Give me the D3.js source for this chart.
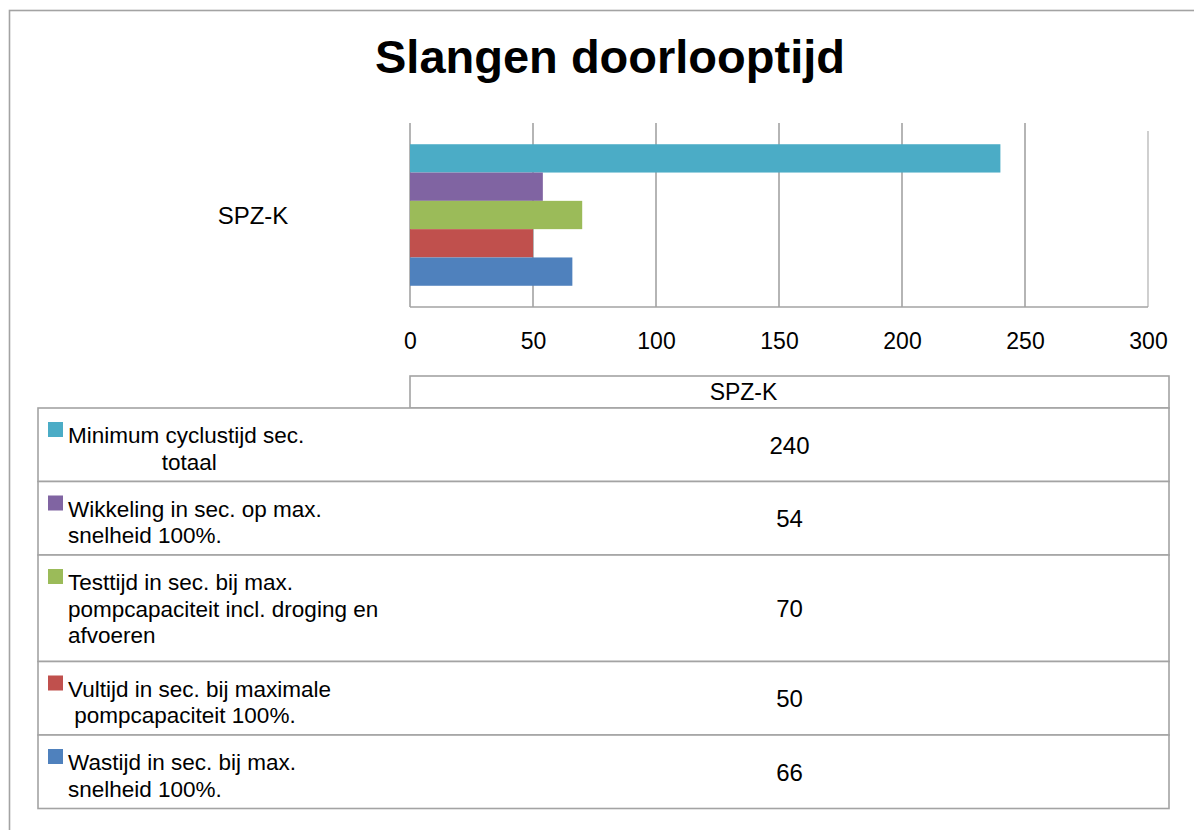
<!DOCTYPE html>
<html>
<head>
<meta charset="utf-8">
<script src="https://cdn.jsdelivr.net/npm/d3@7"></script>
<style>
	body { margin: 0; background: #fff; }
	text { font-family: "Liberation Sans", Arial, sans-serif; fill: #000; }
	.grid line, .frame { stroke: #a3a3a3; stroke-width: 1.6; fill: none; }
	.table-row { fill: #fff; stroke: #a3a3a3; stroke-width: 1.6; }
</style>
</head>
<body>
<div id="chart"></div>
<script>
// chart values
const categories = ['SPZ-K'];
const seriesLabels = [
	['Minimum cyclustijd sec.', '               totaal'],
	['Wikkeling in sec. op max.', 'snelheid 100%.'],
	['Testtijd in sec. bij max.', 'pompcapaciteit incl. droging en', 'afvoeren'],
	['Vultijd in sec. bij maximale', ' pompcapaciteit 100%.'],
	['Wastijd in sec. bij max.', 'snelheid 100%.'],
];
const seriesValues = [240, 54, 70, 50, 66];
const xTicks = [0, 50, 100, 150, 200, 250, 300];

const palette = ['#4bacc6', '#8064a2', '#9bbb59', '#c0504d', '#4f81bd'];

/**
 * Horizontal clustered bar chart with an Excel-like data table underneath.
 */
class DoorlooptijdChart {
	constructor(parentContainer) {
		this.parentContainer = parentContainer;

		this.dimensions = {
			width: 1194,
			height: 830,
			plot: { left: 410, right: 1148, top: 123, bottom: 307 },
			table: { left: 38, right: 1169, headerTop: 376, top: 408 },
		};

		this.series = seriesValues.map((v, i) => ({
			key: `s${i}`,
			value: v,
			label: seriesLabels[i],
			color: palette[i],
		}));

		this._createVis();
		this._drawBars();
		this._drawTable();
	}

	/** Helper method. Frame, title, scales and grid. */
	_createVis() {
		const dim = this.dimensions;

		this.svg = this.parentContainer.append('svg')
			.attr('width', dim.width)
			.attr('height', dim.height);

		// outer chart frame, runs off the right and bottom of the picture
		this.svg.append('rect')
			.classed('frame', true)
			.attr('x', 9.5)
			.attr('y', 10.5)
			.attr('width', dim.width + 20)
			.attr('height', dim.height + 20);

		this.svg.append('text')
			.attr('x', 610)
			.attr('y', 73)
			.attr('text-anchor', 'middle')
			.style('font-size', '47px')
			.style('font-weight', 'bold')
			.text('Slangen doorlooptijd');

		this.x = d3.scaleLinear()
			.domain([xTicks[0], xTicks[xTicks.length - 1]])
			.range([dim.plot.left, dim.plot.right]);

		this.y = d3.scaleBand()
			.domain(categories)
			.range([dim.plot.top, dim.plot.bottom])
			.paddingInner(0)
			.paddingOuter(0.15);

		this.ySeries = d3.scaleBand()
			.domain(this.series.map(d => d.key))
			.range([0, this.y.bandwidth()]);

		const grid = this.svg.append('g').classed('grid', true);
		grid.selectAll('line')
			.data(xTicks)
			.enter()
			.append('line')
			.attr('x1', d => this.x(d))
			.attr('x2', d => this.x(d))
			.attr('y1', d => d === xTicks[xTicks.length - 1] ? dim.plot.top + 8 : dim.plot.top)
			.attr('y2', dim.plot.bottom)
			.style('stroke', d => d === xTicks[xTicks.length - 1] ? '#c4c4c4' : null);

		grid.append('line')
			.attr('x1', dim.plot.left)
			.attr('x2', dim.plot.right)
			.attr('y1', dim.plot.bottom)
			.attr('y2', dim.plot.bottom);

		// tick labels
		const axis = d3.axisBottom(this.x)
			.tickValues(xTicks)
			.tickSize(0)
			.tickPadding(0);

		const axisGroup = this.svg.append('g')
			.attr('transform', `translate(0, ${dim.plot.bottom + 42})`)
			.call(axis);
		axisGroup.select('.domain').remove();
		axisGroup.selectAll('text')
			.attr('dy', null)
			.attr('y', 0)
			.style('font-size', '23px')
			.style('font-family', '"Liberation Sans", Arial, sans-serif')
			.attr('fill', '#000');

		// category label
		this.svg.selectAll('.cat-label')
			.data(categories)
			.enter()
			.append('text')
			.classed('cat-label', true)
			.attr('x', 253)
			.attr('y', d => this.y(d) + this.y.bandwidth() / 2 + 9)
			.attr('text-anchor', 'middle')
			.style('font-size', '24px')
			.text(d => d);
	}

	/** Helper method. One bar per series inside the single category. */
	_drawBars() {
		const cat = categories[0];
		this.svg.append('g')
			.selectAll('rect')
			.data(this.series)
			.enter()
			.append('rect')
			.attr('x', this.x(0))
			.attr('y', d => this.y(cat) + this.ySeries(d.key))
			.attr('width', d => this.x(d.value) - this.x(0))
			.attr('height', this.ySeries.bandwidth())
			.attr('fill', d => d.color);
	}

	/** Helper method. The data table below the axis. */
	_drawTable() {
		const t = this.dimensions.table;
		const colMid = (this.x(0) + t.right) / 2;

		const header = this.svg.append('g');
		header.append('rect')
			.classed('table-row', true)
			.attr('x', this.x(0))
			.attr('y', t.headerTop)
			.attr('width', t.right - this.x(0))
			.attr('height', t.top - t.headerTop);
		header.append('text')
			.attr('x', colMid - 46)
			.attr('y', t.top - 8)
			.attr('text-anchor', 'middle')
			.style('font-size', '23px')
			.text(categories[0]);

		let top = t.top;
		this.series.forEach((d) => {
			const h = 40.5 + 33 * (d.label.length - 1);
			const row = this.svg.append('g').attr('transform', `translate(0, ${top})`);

			row.append('rect')
				.classed('table-row', true)
				.attr('x', t.left)
				.attr('y', 0)
				.attr('width', t.right - t.left)
				.attr('height', h);

			row.append('rect')
				.attr('x', 48)
				.attr('y', 14)
				.attr('width', 15)
				.attr('height', 15)
				.attr('fill', d.color);

			row.append('text')
				.attr('x', 68)
				.attr('y', 35)
				.style('font-size', '22.5px')
				.style('white-space', 'pre')
				.selectAll('tspan')
				.data(d.label)
				.enter()
				.append('tspan')
				.attr('x', 68)
				.attr('dy', (l, i) => i === 0 ? 0 : 26.7)
				.text(l => l);

			row.append('text')
				.attr('x', colMid)
				.attr('y', h / 2 + 9)
				.attr('text-anchor', 'middle')
				.style('font-size', '24px')
				.text(d.value);

			top += h;
		});
	}
}

new DoorlooptijdChart(d3.select('#chart'));
</script>
</body>
</html>
